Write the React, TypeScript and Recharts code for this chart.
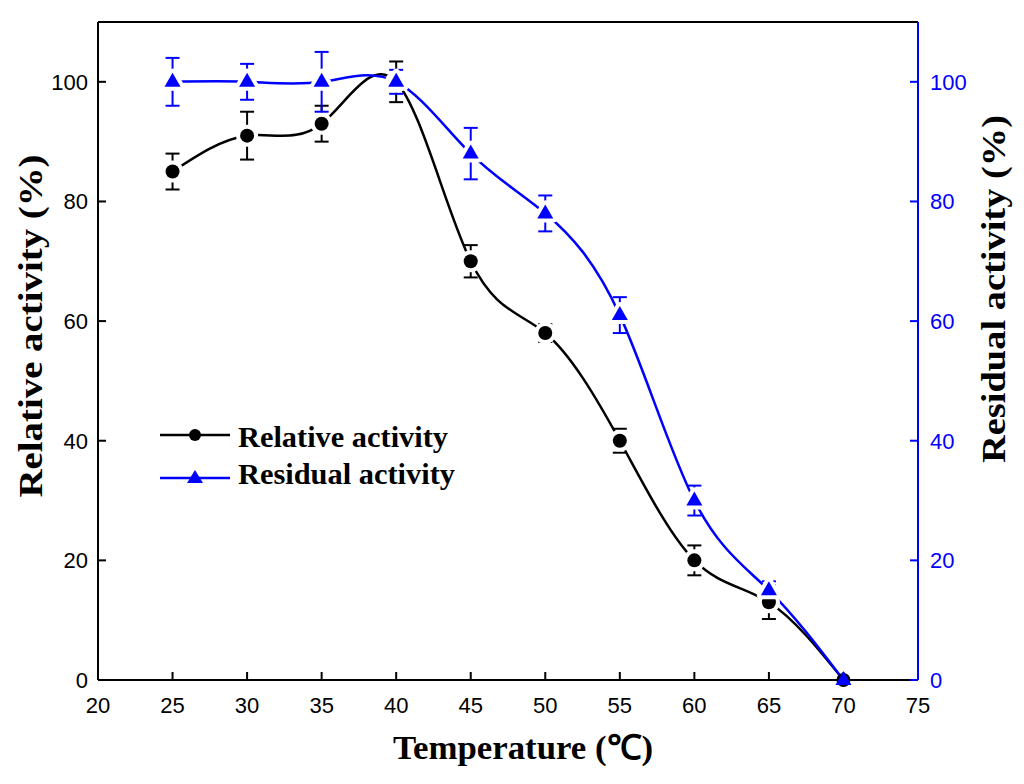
import { LineChart, Line, XAxis, YAxis, ErrorBar, ReferenceLine } from "recharts";

const temps = [25, 30, 35, 40, 45, 50, 55, 60, 65, 70];
const relative = [85, 91, 93, 100, 70, 58, 40, 20, 13, 0];
const relativeErr = [3, 4, 3, 3.4, 2.7, 1.5, 2, 2.5, 2.8, 0];
const residual = [100, 100, 100, 100, 88, 78, 61, 30, 15, 0];
const residualErr = [4, 3, 5, 2, 4.3, 3, 3, 2.5, 1.5, 0];
const xTicks = [20, 25, 30, 35, 40, 45, 50, 55, 60, 65, 70, 75];
const yTicks = [0, 20, 40, 60, 80, 100];

const BLUE = "#0000ff";
const SERIF = "'Liberation Serif', 'Times New Roman', serif";
const SANS = "'Liberation Sans', Arial, sans-serif";

const data = temps.map((t, i) => ({
    temp: t,
    relative: relative[i],
    relErr: relativeErr[i],
    residual: residual[i],
    resErr: residualErr[i],
}));

// black circle with a white halo so the curve breaks around it
const CircleDot = (props: any) => {
    const { cx, cy, index, value } = props;
    if (cx == null || cy == null) return null;
    return (
        <g key={`c${index}`}>
            {value !== 0 && <circle cx={cx} cy={cy} r={11} fill="#fff" />}
            <circle cx={cx} cy={cy} r={7} fill="#000" />
        </g>
    );
};

const triPoints = (cx: number, cy: number, s: number) =>
    `${cx},${cy - 9 * s} ${cx - 8 * s},${cy + 5 * s} ${cx + 8 * s},${cy + 5 * s}`;

const TriangleDot = (props: any) => {
    const { cx, cy, index, value } = props;
    if (cx == null || cy == null) return null;
    return (
        <g key={`t${index}`}>
            {value !== 0 && (
                <polygon
                    points={triPoints(cx, cy, 1)}
                    fill="#fff"
                    stroke="#fff"
                    strokeWidth={8}
                    strokeLinejoin="round"
                />
            )}
            <polygon points={triPoints(cx, cy, 1)} fill={BLUE} />
        </g>
    );
};

const LegendBox = () => (
    <g transform="translate(150,415)">
        {/* relative */}
        <line x1={10} y1={20} x2={80} y2={20} stroke="#000" strokeWidth={2.5} />
        <circle cx={45} cy={20} r={6} fill="#000" />
        <text
            x={88}
            y={32}
            fontFamily={SERIF}
            fontWeight="bold"
            fontSize={29}
            textLength={210}
            lengthAdjust="spacingAndGlyphs"
        >
            Relative activity
        </text>
        {/* residual */}
        <line x1={10} y1={63} x2={80} y2={63} stroke={BLUE} strokeWidth={2.5} />
        <polygon points={`45,55 37,68 53,68`} fill={BLUE} />
        <text
            x={88}
            y={69}
            fontFamily={SERIF}
            fontWeight="bold"
            fontSize={29}
            textLength={217}
            lengthAdjust="spacingAndGlyphs"
        >
            Residual activity
        </text>
    </g>
);

export default function App() {
    return (
        <div
            style={{
                position: "absolute",
                left: 0,
                top: 0,
                width: 1024,
                height: 784,
                background: "#fff",
            }}
        >
            <LineChart
                width={1024}
                height={784}
                data={data}
                margin={{ top: 22, right: 46, left: 38, bottom: 64 }}
            >
                <XAxis
                    dataKey="temp"
                    type="number"
                    domain={[20, 75]}
                    ticks={xTicks}
                    height={40}
                    tickSize={-8}
                    tickMargin={25}
                    axisLine={{ stroke: "#000", strokeWidth: 2 }}
                    tickLine={{ stroke: "#000", strokeWidth: 2 }}
                    tick={{ fill: "#000", fontSize: 22, fontFamily: SANS }}
                />
                <YAxis
                    yAxisId="left"
                    domain={[0, 110]}
                    ticks={yTicks}
                    width={60}
                    tickSize={-8}
                    tickMargin={18}
                    axisLine={{ stroke: "#000", strokeWidth: 2 }}
                    tickLine={{ stroke: "#000", strokeWidth: 2 }}
                    tick={{ fill: "#000", fontSize: 22, fontFamily: SANS }}
                />
                <YAxis
                    yAxisId="right"
                    orientation="right"
                    domain={[0, 110]}
                    ticks={yTicks}
                    width={60}
                    tickSize={-8}
                    tickMargin={20}
                    axisLine={{ stroke: BLUE, strokeWidth: 2 }}
                    tickLine={{ stroke: BLUE, strokeWidth: 2 }}
                    tick={{ fill: BLUE, fontSize: 22, fontFamily: SANS }}
                />
                {/* top frame */}
                <ReferenceLine yAxisId="left" y={110} stroke="#000" strokeWidth={2} />
                <Line
                    yAxisId="left"
                    type="natural"
                    dataKey="relative"
                    name="Relative activity"
                    stroke="#000"
                    strokeWidth={2.5}
                    dot={CircleDot}
                    activeDot={false}
                    isAnimationActive={false}
                >
                    <ErrorBar dataKey="relErr" direction="y" width={7} stroke="#000" strokeWidth={2} />
                </Line>
                <Line
                    yAxisId="right"
                    type="natural"
                    dataKey="residual"
                    name="Residual activity"
                    stroke={BLUE}
                    strokeWidth={2.5}
                    dot={TriangleDot}
                    activeDot={false}
                    isAnimationActive={false}
                >
                    <ErrorBar dataKey="resErr" direction="y" width={7} stroke={BLUE} strokeWidth={2} />
                </Line>
            </LineChart>
            {/* legend and axis titles */}
            <svg
                width={1024}
                height={784}
                style={{ position: "absolute", left: 0, top: 0, pointerEvents: "none" }}
            >
                <LegendBox />
                <text
                    x={523}
                    y={759}
                    textAnchor="middle"
                    fontFamily={SERIF}
                    fontWeight="bold"
                    fontSize={34}
                    textLength={260}
                    lengthAdjust="spacingAndGlyphs"
                >
                    Temperature (℃)
                </text>
                <text
                    transform="translate(42,326) rotate(-90)"
                    textAnchor="middle"
                    fontFamily={SERIF}
                    fontWeight="bold"
                    fontSize={34}
                    textLength={343}
                    lengthAdjust="spacingAndGlyphs"
                >
                    Relative activity (%)
                </text>
                <text
                    transform="translate(1005,289) rotate(-90)"
                    textAnchor="middle"
                    fontFamily={SERIF}
                    fontWeight="bold"
                    fontSize={34}
                    textLength={348}
                    lengthAdjust="spacingAndGlyphs"
                >
                    Residual activity (%)
                </text>
            </svg>
        </div>
    );
}
